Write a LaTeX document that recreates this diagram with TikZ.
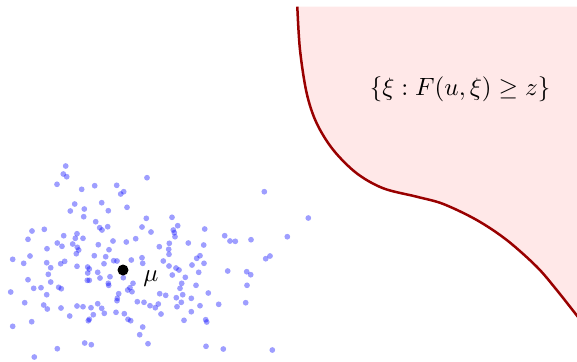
\documentclass[tikz,border=0pt]{standalone}
\usepackage{amssymb}
\begin{document}
\begin{tikzpicture}[x=0.4pt,y=-0.4pt,
  sample/.style={fill=blue,fill opacity=0.38},
  regionline/.style={draw=red!60!black,line width=1pt},
  regionfill/.style={fill=red!9}]
\useasboundingbox (0,0) rectangle (577,361);
% region
\path[regionfill] plot[smooth,tension=0.55] coordinates {(297.3,6.7) (300,50) (306.7,93.3) (316.7,123.3) (333.3,150) (356.7,173.3) (383.3,188.3) (416.7,196.7) (443.3,204) (476.7,220) (506.7,240) (536.7,266.7) (556.7,290) (578,317)} -- (578,6.7) -- cycle;
\draw[regionline] plot[smooth,tension=0.55] coordinates {(297.3,6.7) (300,50) (306.7,93.3) (316.7,123.3) (333.3,150) (356.7,173.3) (383.3,188.3) (416.7,196.7) (443.3,204) (476.7,220) (506.7,240) (536.7,266.7) (556.7,290) (578,317)};
\node (set) at (460,89) {$\{\xi : F(u,\xi) \geq z\}$};
% samples
\foreach \p in {(65.7,166),(63.3,174),(66.7,176.7),(147,177.7),(57,184.3),(94.7,185.7),(116.7,185.3),(81.7,189.3),(123.7,191.7),(120.7,194),(264.3,191.7),(74.7,204),(101.7,202.7),(84.3,209),(70.3,211),(108.3,210.7),(127,207.3),(83.7,216.7),(308.3,218),(146.3,218.3),(172,217.3),(95.7,221.7),(107.7,226.7),(99.7,227.7),(102,230),(142,227),(177.7,225.7),(32,231),(44.3,229.3),(63.7,235.7),(77,233.7),(75.3,238.3),(83,238.3),(151,232),(173.3,230),(174.3,232.7),(175,236.7),(204.7,229),(224.7,235.7),(230,241),(235.3,241.3),(251,239.7),(287.3,236.7),(28,239.3),(135.7,238.7),(126.3,242),(113,241),(57.3,243),(62,246.3),(72.7,244),(77.3,247.3),(78.7,250),(98.3,244.7),(159.3,246.7),(169.3,243.3),(188.3,243),(203.7,245),(47,248.7),(109,249.7),(168.7,249.3),(76.3,253.7),(30,256),(12.7,259.3),(23.7,263.3),(94.3,255.7),(105.7,256.7),(113.7,260.7),(117,261),(131.3,260),(142,257.7),(142.7,263.3),(169,254.3),(163.3,261),(200,255.7),(196.7,258.3),(265.7,258.7),(270,256),(46.7,262.7),(64.7,261.3),(60.7,263.7),(77,266.3),(50.7,267.7),(87.7,267),(89.3,269),(104,263.7),(169,266),(176,268),(179,270),(192,265),(204,263.3),(97.7,272.3),(87.7,273),(110,276.7),(123.3,277.7),(172.3,275),(185.3,277.3),(198.7,272.3),(227.7,271),(246.7,271.7),(250.7,274.7),(48.3,274.3),(28,279.7),(50.7,282),(87.3,280.3),(89.3,280.3),(100,278),(108.3,283.3),(108.7,285.3),(133,283.3),(181.7,283.3),(196,285.3),(247,285.3),(33.7,288.3),(41,287.7),(58.7,287.3),(61.3,288.7),(127.7,290),(130,287.7),(132,291.7),(10.7,292),(118.7,293.7),(117.3,298.3),(117,300.7),(159.7,293.7),(165.7,295.3),(180,288.3),(176.3,297.7),(182.7,294.7),(191.3,298.3),(208.3,293),(46.7,294.7),(24.7,302.7),(137.3,301.7),(144,302.3),(150,305.7),(155.3,307.7),(158.3,304),(181.3,302.3),(177,306.7),(200,305.7),(218.7,304.3),(245.7,302.7),(43.7,305),(47.3,309),(61,308),(77,306),(83,306.7),(91,307.7),(97.7,303.7),(101.7,308.3),(104.3,313.3),(93.3,314.7),(116,312.3),(124.3,313.7),(161,314),(191.3,311.7),(69.7,316),(89.3,319.3),(88.3,320.7),(128,319.3),(130.7,320.7),(184,320.3),(205.7,319.7),(206.7,322),(31.7,321.7),(12.7,326.3),(142.7,327),(139.7,334.7),(84.7,343),(91.3,344.7),(148,343.7),(57.3,348.7),(206,346.3),(223.3,349),(272.3,350),(34.3,357)}
  \fill[sample] \p circle[radius=1.15pt];
% mean
\fill (123,270) circle[radius=2.2pt] coordinate (mu);
\node (mulabel) at (151,279) {$\mu$};
\end{tikzpicture}
\end{document}
